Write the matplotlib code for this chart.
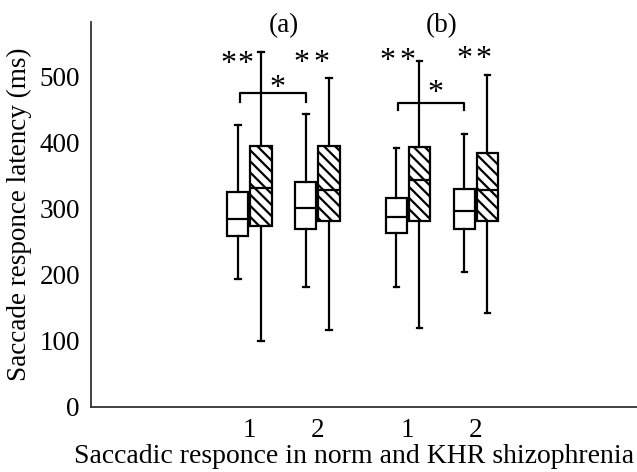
import matplotlib
matplotlib.use("Agg")
import matplotlib.pyplot as plt

plt.rcParams['font.family'] = ['Liberation Serif', 'DejaVu Serif']
plt.rcParams['hatch.linewidth'] = 1.6

# Data (ms): group (a) and (b), conditions 1 and 2
groups = ["(a)", "(b)"]
tick_labels = ["1", "2", "1", "2"]
# norm (white boxes)
norm_whislo = [194, 182, 182, 205]
norm_q1     = [259, 270, 263, 270]
norm_med    = [284, 301, 287, 297]
norm_q3     = [326, 340, 317, 330]
norm_whishi = [427, 444, 392, 414]
# KHR shizophrenia (hatched boxes)
khr_whislo = [100, 116, 120, 143]
khr_q1     = [274, 282, 282, 282]
khr_med    = [331, 329, 343, 329]
khr_q3     = [395, 395, 394, 384]
khr_whishi = [537, 498, 524, 502]

pair_pos = [1.0, 2.0, 3.33, 4.33]
off = 0.17
bw = 0.31

fig = plt.figure(figsize=(6.37, 4.72), dpi=100)
ax = fig.add_axes([91/637, 1-407/472, 1-91/637, (407-22)/472])

def stats(lo, q1, med, q3, hi):
    return [dict(whislo=a, q1=b, med=c, q3=d, whishi=e, fliers=[])
            for a, b, c, d, e in zip(lo, q1, med, q3, hi)]

lw = 1.6
common = dict(widths=bw, showfliers=False, patch_artist=True, manage_ticks=False,
              whiskerprops=dict(color='black', lw=lw),
              capprops=dict(color='black', lw=lw),
              medianprops=dict(color='black', lw=lw),
              boxprops=dict(edgecolor='black', lw=lw))
ax.bxp(stats(norm_whislo, norm_q1, norm_med, norm_q3, norm_whishi),
       positions=[p - off for p in pair_pos], capwidths=0.08,
       **common)
b2 = ax.bxp(stats(khr_whislo, khr_q1, khr_med, khr_q3, khr_whishi),
            positions=[p + off for p in pair_pos], capwidths=0.08,
            **common)
for b in ax.patches:
    b.set_facecolor('white')
for b in b2['boxes']:
    b.set_hatch('\\\\\\')

ax.set_xlim(-1.33, 6.70)
ax.set_ylim(0, 583)
ax.set_yticks([0, 100, 200, 300, 400, 500])
ax.set_xticks(pair_pos)
ax.set_xticklabels(tick_labels)
ax.tick_params(length=0, labelsize=19.5)
ax.tick_params(axis='x', pad=8)
ax.tick_params(axis='y', pad=8)
for s in ['top', 'right']:
    ax.spines[s].set_visible(False)
for s in ['left', 'bottom']:
    ax.spines[s].set_linewidth(1.3)
    ax.spines[s].set_color('#333333')

ax.set_ylabel("Saccade responce latency (ms)", fontsize=19.5, labelpad=5)
ax.set_xlabel("Saccadic responce in norm and KHR shizophrenia", fontsize=20, labelpad=0)
ax.xaxis.set_label_coords(0.481, -0.096)

# group titles
for g, (p1, p2) in zip(groups, [(pair_pos[0], pair_pos[1]), (pair_pos[2], pair_pos[3])]):
    ax.text((p1 + p2) / 2, 578, g, ha='center', va='center', fontsize=19.5)

# significance marks: "* *" above each pair (x offsets relative to the pair centre)
star_dx = [(-0.316, -0.066), (-0.228, 0.066), (-0.305, -0.01), (-0.17, 0.11)]
star_y = [527, 529, 532, 535]
for p, (d1, d2), y in zip(pair_pos, star_dx, star_y):
    for d in (d1, d2):
        ax.text(p + d, y - 9, "*", ha='center', va='center', fontsize=23)

brackets = [(0, 1, 476, 462, 491), (2, 3, 461, 450, 484)]
for i, j, yb, yleg, ys in brackets:
    x1 = pair_pos[i] - off + 0.03
    x2 = pair_pos[j] - off
    ax.plot([x1, x1, x2, x2], [yleg, yb, yb, yleg], color='black', lw=1.6)
    ax.text((x1 + x2) / 2 + 0.06, ys - 9, "*", ha='center', va='center', fontsize=23)

fig.savefig("out.png", dpi=100)
